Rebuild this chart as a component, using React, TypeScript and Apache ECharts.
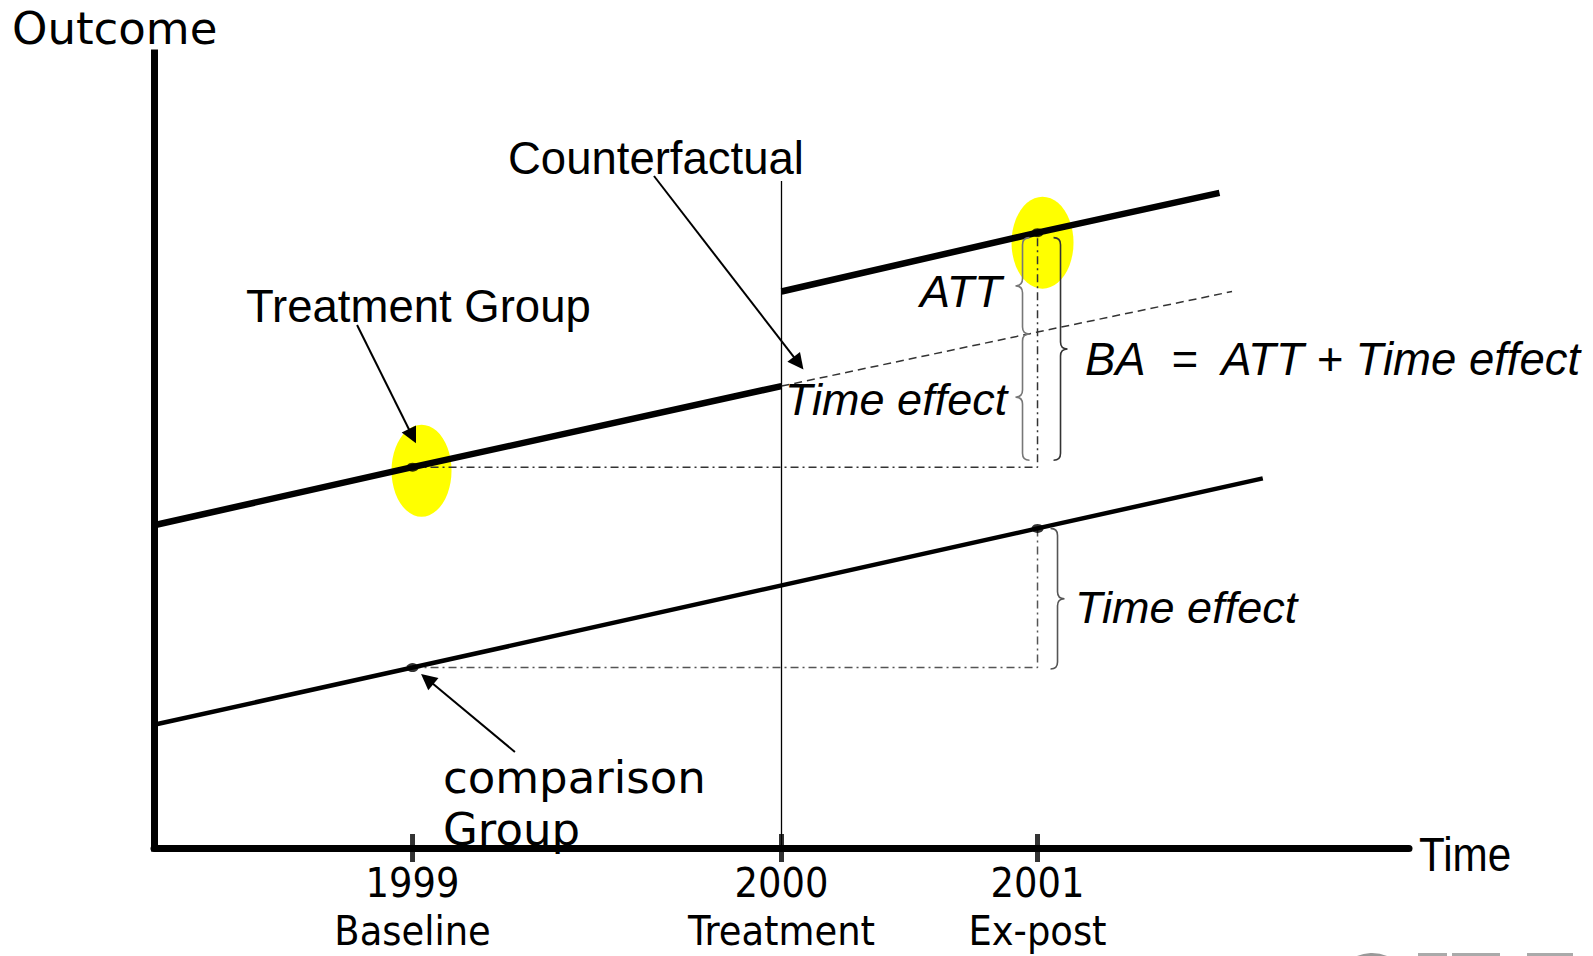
import React, { useEffect, useRef } from 'react';
import * as echarts from 'echarts';

// ---------------- data ----------------
const tickPositions = [20.6, 50, 70.4];
const tickYears = ['1999', '2000', '2001'];
const tickPhases = ['Baseline', 'Treatment', 'Ex-post'];

const treatedBefore = [[0, 40.6], [20.6, 47.9], [50, 58.1]];
const treatedAfter = [[50, 70.0], [70.4, 77.4], [84.9, 82.4]];
const counterfactual = [[50, 58.1], [70.4, 64.9], [85.9, 70.0]];
const comparison = [[0, 15.5], [20.6, 22.7], [70.4, 40.2], [88.35, 46.5]];
const treatmentDate = [[50, 0], [50, 83.9]];

// annotation pointers: [start, arrow-head centre]
const pointerTreated = [[16.18, 65.79], [20.59, 51.8]];
const pointerCounterfactual = [[39.84, 84.53], [51.36, 60.98]];
const pointerComparison = [[28.76, 12.08], [21.77, 21.25]];

// braces: [x, from, to, side(+1 right / -1 left)]
const braceData = [
  [treatedAfter[1][0], treatedAfter[1][1], counterfactual[1][1], -1],
  [treatedAfter[1][0], counterfactual[1][1], treatedBefore[1][1], -1],
  [treatedAfter[1][0], treatedAfter[1][1], treatedBefore[1][1], 1],
  [comparison[2][0], comparison[2][1], comparison[1][1], 1],
];

// ---------------- styles / layout ----------------
const BLACK = '#000';
const braceLayout = [
  { dx: -15, padTop: 5, padBottom: -2, color: '#777' },
  { dx: -15, padTop: 2, padBottom: 7, color: '#777' },
  { dx: 23, padTop: 5, padBottom: 7, color: '#333' },
  { dx: 20, padTop: 0, padBottom: -1.5, color: '#555' },
];

const VERDANA = "'DejaVu Sans', Verdana, sans-serif";
const TAHOMA = "'DejaVu Sans Condensed', 'DejaVu Sans', sans-serif";
const ARIAL = "'Liberation Sans', Arial, sans-serif";

function txt(text: string, x: number, y: number, fontFamily: string, fontSize: number, extra: any = {}, el: any = {}) {
  return {
    type: 'text',
    x,
    y,
    z: 100,
    silent: true,
    ...el,
    style: {
      text,
      fontFamily,
      fontSize,
      fill: BLACK,
      align: 'left',
      verticalAlign: 'middle',
      ...extra,
    },
  };
}

const lineBase = { type: 'line', symbol: 'none', showSymbol: false, silent: true, clip: false };

function braceRender(params: any, api: any) {
  const i = params.dataIndex;
  const L = braceLayout[i];
  const top = api.coord([api.value(0), api.value(1)]);
  const bot = api.coord([api.value(0), api.value(2)]);
  const s = api.value(3);
  const x0 = top[0] + L.dx;
  const y1 = top[1] + L.padTop;
  const y2 = bot[1] - L.padBottom;
  const ym = (y1 + y2) / 2;
  const r = 7;
  const d =
    `M${x0 - s * r} ${y1} Q${x0} ${y1} ${x0} ${y1 + r} L${x0} ${ym - r} ` +
    `Q${x0} ${ym} ${x0 + s * r} ${ym} Q${x0} ${ym} ${x0} ${ym + r} ` +
    `L${x0} ${y2 - r} Q${x0} ${y2} ${x0 - s * r} ${y2}`;
  return {
    type: 'path',
    shape: { pathData: d },
    style: { fill: 'none', stroke: L.color, lineWidth: 1.6 },
  };
}

const option: any = {
  animation: false,
  backgroundColor: '#fff',
  grid: { left: 154, right: 184, top: 53, bottom: 108, containLabel: false, outerBoundsMode: 'none' },
  xAxis: {
    type: 'value',
    min: 0,
    max: 100,
    axisLine: { show: true, onZero: false, lineStyle: { color: BLACK, width: 7 } },
    axisTick: { show: false },
    splitLine: { show: false },
    axisLabel: {
      show: true,
      customValues: tickPositions,
      formatter: (v: number) => {
        const i = tickPositions.findIndex((t) => Math.abs(t - v) < 1e-6);
        return i < 0 ? '' : `${tickYears[i]}\n${tickPhases[i]}`;
      },
      color: BLACK,
      fontFamily: TAHOMA,
      fontSize: 41,
      lineHeight: 48,
      margin: 11,
      align: 'center',
      verticalAlign: 'top',
    },
  },
  yAxis: {
    type: 'value',
    min: 0,
    max: 100,
    axisLine: { show: true, lineStyle: { color: BLACK, width: 7, cap: 'square' } },
    axisTick: { show: false },
    axisLabel: { show: false },
    splitLine: { show: false },
  },
  series: [
    {
      type: 'scatter',
      name: 'highlight',
      silent: true,
      clip: false,
      symbol: 'circle',
      itemStyle: { color: '#FFFF00', opacity: 1 },
      z: 1,
      data: [
        { value: treatedBefore[1], symbolSize: [60, 92], symbolOffset: [9, 3.5] },
        { value: treatedAfter[1], symbolSize: [62, 92], symbolOffset: [5, 10] },
      ],
    },
    { ...lineBase, name: 'Treatment Group (before)', data: treatedBefore, lineStyle: { color: BLACK, width: 6.5 }, z: 4 },
    { ...lineBase, name: 'Treatment Group (after)', data: treatedAfter, lineStyle: { color: BLACK, width: 6.5 }, z: 4 },
    { ...lineBase, name: 'Counterfactual', data: counterfactual, lineStyle: { color: '#333', width: 1.5, type: [8, 5] }, z: 3 },
    { ...lineBase, name: 'comparison Group', data: comparison, lineStyle: { color: BLACK, width: 4.5 }, z: 4 },
    { ...lineBase, name: 'Treatment', data: treatmentDate, lineStyle: { color: BLACK, width: 1.3 }, z: 2 },
    {
      ...lineBase,
      name: 'guide treated',
      data: [treatedBefore[1], [treatedAfter[1][0], treatedBefore[1][1]], treatedAfter[1]],
      lineStyle: { color: '#333', width: 1.5, type: [8, 4, 2, 4] },
      z: 3,
    },
    {
      ...lineBase,
      name: 'guide comparison',
      data: [comparison[1], [comparison[2][0], comparison[1][1]], comparison[2]],
      lineStyle: { color: '#555', width: 1.5, type: [8, 4, 2, 4] },
      z: 3,
    },
    {
      type: 'scatter',
      name: 'observations',
      silent: true,
      symbol: 'circle',
      symbolSize: [12, 9],
      itemStyle: { color: BLACK },
      z: 5,
      data: [treatedBefore[1], treatedAfter[1], comparison[1], comparison[2]],
    },
    {
      type: 'scatter',
      name: 'ticks',
      silent: true,
      clip: false,
      symbol: 'rect',
      symbolSize: [5, 28],
      itemStyle: { color: BLACK },
      z: 5,
      data: tickPositions.map((x) => [x, 0]),
    },
    {
      type: 'custom',
      name: 'braces',
      silent: true,
      clip: false,
      z: 5,
      encode: { x: 0, y: [1, 2] },
      renderItem: braceRender,
      data: braceData,
    },
    {
      type: 'lines',
      name: 'pointers',
      coordinateSystem: 'cartesian2d',
      silent: true,
      polyline: false,
      symbol: ['none', 'triangle'],
      symbolSize: 16,
      lineStyle: { color: BLACK, width: 2, opacity: 1, curveness: 0 },
      z: 6,
      data: [
        { coords: pointerTreated },
        { coords: pointerCounterfactual },
        { coords: pointerComparison },
      ],
    },
  ],
  graphic: [
    txt('Outcome', 12, 28.5, VERDANA, 45),
    txt('Treatment Group', 246, 306, ARIAL, 45.5),
    txt('Counterfactual', 508, 158, ARIAL, 45.5),
    txt('comparison\nGroup', 443, 752, VERDANA, 45, { verticalAlign: 'top', lineHeight: 51.6 }),
    txt('ATT', 920, 291.5, ARIAL, 45, { fontStyle: 'italic' }),
    txt('Time effect', 785, 399, ARIAL, 45, { fontStyle: 'italic' }),
    txt('BA\u00a0 =\u00a0 ATT + Time effect', 1085, 359, ARIAL, 45.5, { fontStyle: 'italic' }),
    txt('Time effect', 1075, 607, ARIAL, 45, { fontStyle: 'italic' }),
    txt('Time', 1419, 855, ARIAL, 48, {}, { scaleX: 0.88 }),
    // fragment of a logo cut by the bottom edge
    { type: 'circle', shape: { cx: 1372, cy: 992, r: 36 }, style: { fill: 'none', stroke: '#999', lineWidth: 6 }, silent: true },
    { type: 'rect', shape: { x: 1418, y: 953, width: 29, height: 3 }, style: { fill: '#aaa' }, silent: true },
    { type: 'rect', shape: { x: 1452, y: 953, width: 48, height: 3 }, style: { fill: '#aaa' }, silent: true },
    { type: 'rect', shape: { x: 1527, y: 953, width: 46, height: 3 }, style: { fill: '#aaa' }, silent: true },
  ],
};

export default function App() {
  const ref = useRef<HTMLDivElement>(null);
  useEffect(() => {
    const chart = echarts.init(ref.current as HTMLDivElement, null, { renderer: 'svg', width: 1593, height: 956 });
    chart.setOption(option);
    return () => chart.dispose();
  }, []);
  return (
    <div
      ref={ref}
      style={{ position: 'fixed', left: 0, top: 0, width: 1593, height: 956, background: '#fff' }}
    />
  );
}
